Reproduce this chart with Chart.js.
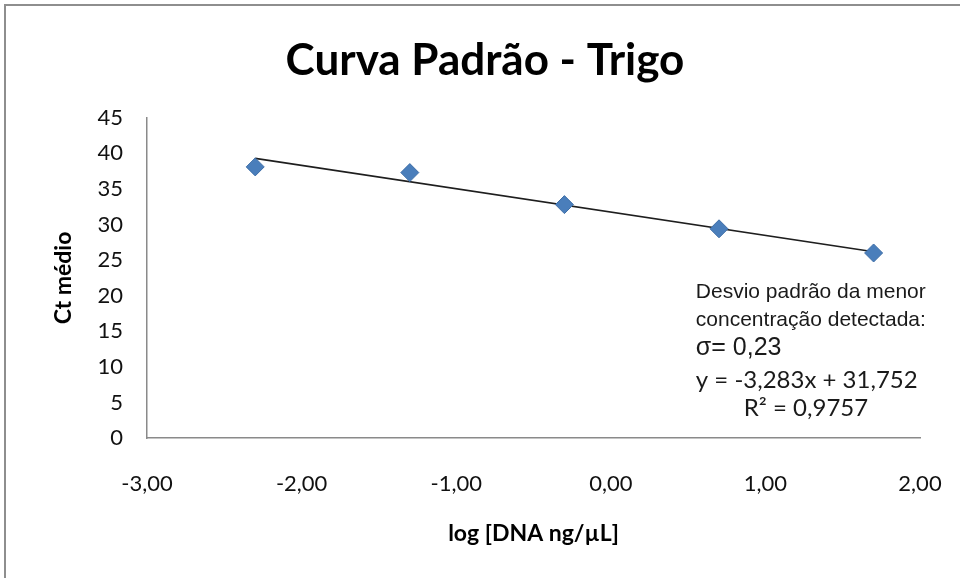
<!DOCTYPE html>
<html>
<head>
<meta charset="utf-8">
<script src="https://cdn.jsdelivr.net/npm/chart.js@4/dist/chart.umd.min.js"></script>
<style>
  html, body { margin: 0; padding: 0; background: #fff; }
  #wrap { width: 960px; height: 578px; }
</style>
</head>
<body>
<div id="wrap"><canvas id="curva"></canvas></div>
<script>
// dados
const logDna = [-2.3, -1.3, -0.3, 0.7, 1.7];
const ctMedio = [38.1, 37.3, 32.8, 29.4, 26.0];
const xTickLabels = ['-3,00', '-2,00', '-1,00', '0,00', '1,00', '2,00'];
const yTickLabels = ['0', '5', '10', '15', '20', '25', '30', '35', '40', '45'];

// linha de tendência (equação do gráfico)
const slope = -3.283;
const intercept = 31.752;
const trendX = [logDna[0], logDna[logDna.length - 1]];

const notas = [
    'Desvio padrão da menor',
    'concentração detectada:',
    'σ= 0,23',
    'y = -3,283x + 31,752',
    'R² = 0,9757'
];

const fundo = {
    id: 'fundo',
    beforeDraw(chart) {
        const c = chart.ctx;
        c.save();
        c.fillStyle = '#fff';
        c.fillRect(0, 0, chart.width, chart.height);
        c.strokeStyle = '#8e8e8e';
        c.lineWidth = 2;
        c.strokeRect(5, 5, chart.width + 20, chart.height + 20);
        c.restore();
    }
};

// textos ao lado da curva
const anotacoes = {
    id: 'anotacoes',
    afterDraw(chart) {
        const c = chart.ctx;
        const x = chart.scales.x;
        const y = chart.scales.y;
        const left = x.getPixelForValue(0.55);
        c.save();
        c.fillStyle = '#1a1a1a';
        c.textBaseline = 'middle';
        c.font = '21px "Liberation Sans", Arial, sans-serif';
        c.fillText(notas[0], left, y.getPixelForValue(20.5));
        c.fillText(notas[1], left, y.getPixelForValue(16.6));
        c.font = '25px "Liberation Sans", Arial, sans-serif';
        c.fillText(notas[2], left, y.getPixelForValue(12.6));
        c.font = '24px Lato, sans-serif';
        c.fillText(notas[3], left, y.getPixelForValue(8.1));
        c.fillText(notas[4], left + 48, y.getPixelForValue(4.2));
        c.restore();
    }
};

new Chart(document.getElementById('curva'), {
    type: 'scatter',
    data: {
        datasets: [{
            label: 'Ct médio',
            data: logDna.map((v, i) => ({ x: v, y: ctMedio[i] })),
            pointStyle: 'rectRot',
            pointRadius: 9,
            pointHoverRadius: 9,
            backgroundColor: '#4a7ebb',
            borderColor: '#3f6fa8',
            borderWidth: 1,
            order: 1
        }, {
            label: 'Tendência',
            type: 'line',
            data: trendX.map(v => ({ x: v, y: slope * v + intercept })),
            borderColor: '#1e1e1e',
            borderWidth: 1.6,
            pointRadius: 0,
            fill: false,
            order: 2
        }]
    },
    options: {
        responsive: true,
        maintainAspectRatio: false,
        animation: false,
        layout: { padding: { left: 50, right: 40, top: 0, bottom: 0 } },
        plugins: {
            legend: { display: false },
            tooltip: { enabled: false },
            title: {
                display: true,
                text: 'Curva Padrão - Trigo',
                color: '#000',
                font: { family: 'Lato, sans-serif', size: 44, weight: 'bold', lineHeight: 1.2 },
                padding: { top: 34, bottom: 31 }
            }
        },
        scales: {
            x: {
                type: 'linear',
                min: -3,
                max: 2,
                grid: { display: false },
                border: { display: true, color: '#8a8a8a', width: 1.5 },
                ticks: {
                    stepSize: 1,
                    padding: 25,
                    color: '#111',
                    font: { family: 'Lato, sans-serif', size: 22 },
                    callback: (v) => xTickLabels[Math.round(v) + 3]
                },
                title: {
                    display: true,
                    text: 'log [DNA ng/µL]',
                    color: '#000',
                    font: { family: 'Lato, sans-serif', size: 23, weight: 'bold', lineHeight: 1.2 },
                    padding: { top: 0, bottom: 31 }
                },
                afterFit(scale) {
                    scale.height = 140;
                    scale.paddingLeft = 0;
                    scale.paddingRight = 0;
                }
            },
            y: {
                min: 0,
                max: 45,
                grid: { display: false },
                border: { display: true, color: '#8a8a8a', width: 1.5 },
                ticks: {
                    stepSize: 5,
                    padding: 16,
                    color: '#111',
                    font: { family: 'Lato, sans-serif', size: 22 },
                    callback: (v) => yTickLabels[Math.round(v / 5)]
                },
                title: {
                    display: true,
                    text: 'Ct médio',
                    color: '#000',
                    font: { family: 'Lato, sans-serif', size: 23, weight: 'bold', lineHeight: 1.2 },
                    padding: { top: 0, bottom: 0 }
                },
                afterFit(scale) { scale.width = 97; }
            }
        }
    },
    plugins: [fundo, anotacoes]
});
</script>
</body>
</html>
